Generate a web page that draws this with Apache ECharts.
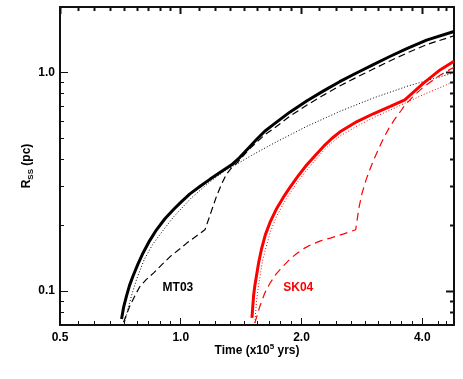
<!DOCTYPE html>
<html>
<head>
<meta charset="utf-8">
<script src="https://cdn.jsdelivr.net/npm/echarts@6/dist/echarts.min.js"></script>
<style>
html, body { margin: 0; padding: 0; background: #fff; }
#chart { width: 463px; height: 379px; }
#msg { position: absolute; left: 70px; top: 20px; font: 11px sans-serif; color: blue; width: 300px; }
</style>
</head>
<body>
<div id="chart"></div>
<div id="msg"></div>
<script>
window.onerror = function (m) { document.getElementById('msg').textContent += ' ERR ' + m; };

// time in units of 1e5 yr, shell radius in pc (both log axes)
var xMin = 0.5, xMax = 4.8;
var yMin = 0.07, yMax = 2.0;
var xTickLabels = [0.5, 1.0, 2.0, 4.0];
var yTickLabels = [0.1, 1.0];
var xMinorTicks = [0.556, 0.611, 0.667, 0.722, 0.778, 0.833, 0.889, 0.944,
                   1.111, 1.222, 1.333, 1.444, 1.556, 1.667, 1.778, 1.889,
                   2.222, 2.444, 2.667, 2.889, 3.111, 3.333, 3.556, 3.778,
                   4.4, 4.6];
var yMinorTicks = [0.08, 0.09, 0.2, 0.3, 0.4, 0.5, 0.6, 0.7, 0.8, 0.9];

// MT03 model (black)
var mt03Solid = [[0.712,0.0746],[0.72,0.084],[0.732,0.0946],[0.745,0.106],[0.76,0.117],[0.782,0.133],
  [0.806,0.15],[0.836,0.17],[0.87,0.191],[0.912,0.214],[0.958,0.236],[1.0,0.255],[1.054,0.279],
  [1.12,0.303],[1.182,0.325],[1.26,0.352],[1.339,0.379],[1.404,0.41],[1.48,0.455],[1.545,0.495],
  [1.62,0.54],[1.704,0.58],[1.87,0.66],[2.06,0.742],[2.27,0.826],[2.49,0.91],[2.75,1.0],
  [3.02,1.09],[3.33,1.19],[3.66,1.29],[4.1,1.41],[4.8,1.545]];
var mt03Dash = [[0.72,0.072],[0.746,0.0852],[0.77,0.096],[0.791,0.105],[0.82,0.113],[0.855,0.121],
  [0.9,0.133],[0.941,0.144],[0.99,0.155],[1.035,0.166],[1.09,0.178],[1.149,0.191],[1.19,0.23],
  [1.228,0.272],[1.265,0.31],[1.30,0.343],[1.34,0.368],[1.378,0.385],[1.43,0.415],[1.487,0.45],
  [1.545,0.48],[1.62,0.52],[1.704,0.555],[1.87,0.632],[2.06,0.71],[2.27,0.79],[2.49,0.87],
  [2.75,0.955],[3.02,1.04],[3.33,1.135],[3.66,1.23],[4.1,1.345],[4.8,1.477]];
var mt03Dot = [[0.726,0.0728],[0.74,0.084],[0.757,0.098],[0.777,0.114],[0.81,0.139],[0.85,0.163],
  [0.9,0.188],[0.96,0.219],[1.06,0.266],[1.18,0.316],[1.3,0.36],[1.38,0.382],[1.5,0.418],
  [1.7,0.474],[2.06,0.568],[2.49,0.665],[3.02,0.766],[3.66,0.866],[4.8,1.0]];

// SK04 model (red)
var sk04Solid = [[1.505,0.0754],[1.512,0.085],[1.519,0.095],[1.53,0.106],[1.545,0.118],[1.565,0.136],
  [1.59,0.156],[1.625,0.181],[1.67,0.207],[1.73,0.237],[1.80,0.268],[1.87,0.298],[1.96,0.336],
  [2.06,0.378],[2.17,0.42],[2.27,0.46],[2.38,0.50],[2.49,0.535],[2.75,0.598],[3.02,0.649],
  [3.33,0.701],[3.62,0.752],[4.03,0.897],[4.43,1.03],[4.8,1.13]];
var sk04Dash = [[1.53,0.0715],[1.574,0.085],[1.62,0.098],[1.67,0.109],[1.73,0.12],[1.80,0.130],
  [1.87,0.14],[1.95,0.149],[2.03,0.157],[2.11,0.163],[2.23,0.17],[2.36,0.175],[2.55,0.183],
  [2.73,0.191],[2.78,0.24],[2.83,0.28],[2.9,0.325],[2.96,0.36],[3.02,0.395],[3.1,0.44],
  [3.2,0.50],[3.3,0.555],[3.4,0.605],[3.54,0.67],[3.62,0.71],[3.8,0.78],[4.0,0.85],
  [4.2,0.91],[4.43,0.975],[4.8,1.06]];
var sk04Dot = [[1.53,0.0715],[1.545,0.09],[1.56,0.104],[1.574,0.115],[1.6,0.138],[1.63,0.158],
  [1.67,0.185],[1.73,0.218],[1.80,0.25],[1.87,0.28],[1.96,0.318],[2.06,0.358],[2.17,0.40],
  [2.27,0.44],[2.38,0.478],[2.49,0.512],[2.75,0.57],[3.02,0.622],[3.33,0.675],[3.62,0.725],
  [4.03,0.795],[4.43,0.855],[4.8,0.912]];

var curveLabels = ['MT03', 'SK04'];
var curveLabelPos = [[0.984, 0.104], [1.963, 0.104]];

var FONT = '"Liberation Sans", Arial, Helvetica, sans-serif';
var INK = '#111';
var RED = '#ff0000';

function tickFormatter(list) {
  return function (v) {
    for (var i = 0; i < list.length; i++) {
      if (Math.abs(v - list[i]) < 1e-6) return list[i].toFixed(1);
    }
    return '';
  };
}

function baseAxis(logBase, min, max, pos, showLabel, labels) {
  return {
    type: 'log',
    logBase: logBase,
    min: min,
    max: max,
    position: pos,
    nameMoveOverlap: false,
    axisLine: { show: true, onZero: false, lineStyle: { color: INK, width: 2 } },
    axisTick: { show: false },
    splitLine: { show: false },
    axisLabel: {
      show: showLabel,
      formatter: tickFormatter(labels),
      color: '#000',
      fontFamily: FONT,
      fontWeight: 'bold',
      fontSize: 12,
      margin: 7
    }
  };
}

// inward ticks: bottom/left 1px wide, top/right 2px wide
function tickSeries(values, isX, len) {
  return {
    type: 'custom',
    silent: true,
    z: 6,
    data: values.map(function (v) { return isX ? [v, yMin] : [xMin, v]; }),
    renderItem: function (params, api) {
      var cs = params.coordSys;
      var p = api.coord([api.value(0), api.value(1)]);
      if (isX) {
        var x = Math.floor(p[0]);
        return { type: 'group', children: [
          { type: 'rect', shape: { x: x, y: cs.y + cs.height - len, width: 1, height: len },
            style: { fill: INK } },
          { type: 'rect', shape: { x: x - 0.5, y: cs.y, width: 2, height: len },
            style: { fill: INK } }
        ] };
      }
      var y = Math.floor(p[1]);
      return { type: 'group', children: [
        { type: 'rect', shape: { x: cs.x, y: y, width: len, height: 1 },
          style: { fill: INK } },
        { type: 'rect', shape: { x: cs.x + cs.width - len, y: y - 0.5, width: len, height: 2 },
          style: { fill: INK } }
      ] };
    }
  };
}

function curve(data, color, width, type, z) {
  return {
    type: 'line',
    data: data,
    symbol: 'none',
    showSymbol: false,
    silent: true,
    z: z,
    lineStyle: { color: color, width: width, type: type }
  };
}

function curveLabel(i, color) {
  return {
    symbol: 'circle',
    symbolSize: 0,
    silent: true,
    data: [{ coord: curveLabelPos[i], name: curveLabels[i] }],
    label: {
      show: true,
      position: 'inside',
      formatter: curveLabels[i],
      color: color,
      fontFamily: FONT,
      fontWeight: 'bold',
      fontSize: 12
    }
  };
}

var xBottom = baseAxis(2, xMin, xMax, 'bottom', true, xTickLabels);
xBottom.name = '{a|Time (x10}{sup|5}{a| yrs)}';
xBottom.nameLocation = 'middle';
xBottom.nameGap = 18;
xBottom.nameTextStyle = {
  rich: {
    a: { fontFamily: FONT, fontWeight: 'bold', fontSize: 12, color: '#000', lineHeight: 16 },
    sup: { fontFamily: FONT, fontWeight: 'bold', fontSize: 8, color: '#000', lineHeight: 8, verticalAlign: 'top' }
  }
};
var xTop = baseAxis(2, xMin, xMax, 'top', false, xTickLabels);

var yLeft = baseAxis(10, yMin, yMax, 'left', true, yTickLabels);
yLeft.axisLabel.margin = 5;
yLeft.name = '{a|R}{sub|SS}{a| (pc)}';
yLeft.nameLocation = 'middle';
yLeft.nameGap = 25;
yLeft.nameTextStyle = {
  rich: {
    a: { fontFamily: FONT, fontWeight: 'bold', fontSize: 12, color: '#000', lineHeight: 16 },
    sub: { fontFamily: FONT, fontWeight: 'bold', fontSize: 8, color: '#000', lineHeight: 8, verticalAlign: 'bottom' }
  }
};
var yRight = baseAxis(10, yMin, yMax, 'right', false, yTickLabels);

var mtSolid = curve(mt03Solid, '#000', 3, 'solid', 4);
mtSolid.markPoint = curveLabel(0, '#000');
var skSolid = curve(sk04Solid, RED, 3, 'solid', 5);
skSolid.markPoint = curveLabel(1, RED);

var chart = echarts.init(document.getElementById('chart'));
chart.setOption({
  animation: false,
  grid: { left: 60, right: 9, top: 7, bottom: 54, containLabel: false },
  xAxis: [xBottom, xTop],
  yAxis: [yLeft, yRight],
  series: [
    curve(mt03Dot, '#000', 1, [1, 2], 3),
    curve(mt03Dash, '#000', 1.2, [7, 4], 3),
    mtSolid,
    curve(sk04Dot, RED, 1, [1, 2], 4),
    curve(sk04Dash, RED, 1.2, [8, 5], 4),
    skSolid,
    tickSeries(xTickLabels, true, 7),
    tickSeries(xMinorTicks, true, 4),
    tickSeries(yTickLabels, false, 8),
    tickSeries(yMinorTicks, false, 4)
  ]
});
</script>
</body>
</html>
